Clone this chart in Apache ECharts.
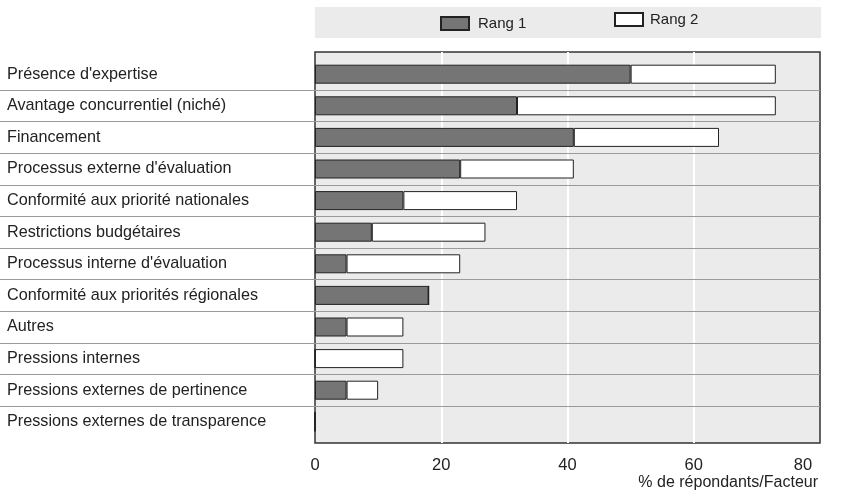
<!DOCTYPE html>
<html>
<head>
<meta charset="utf-8">
<script src="https://cdn.jsdelivr.net/npm/echarts@6/dist/echarts.min.js"></script>
<style>
html,body{margin:0;padding:0;background:#fff;}
#chart{width:863px;height:502px;}
</style>
</head>
<body>
<div id="chart"></div>
<script>
const categories = [
  "Présence d'expertise",
  "Avantage concurrentiel (niché)",
  "Financement",
  "Processus externe d'évaluation",
  "Conformité aux priorité nationales",
  "Restrictions budgétaires",
  "Processus interne d'évaluation",
  "Conformité aux priorités régionales",
  "Autres",
  "Pressions internes",
  "Pressions externes de pertinence",
  "Pressions externes de transparence"
];
const rang1 = [50, 32, 41, 23, 14, 9, 5, 18, 5, 0, 5, 0];
const rang2 = [23, 41, 23, 18, 18, 18, 18, 0, 9, 14, 5, 0];
const seriesNames = ["Rang 1", "Rang 2"];
const axisName = "% de répondants/Facteur";

const FONT = "'Liberation Sans', Arial, sans-serif";
const chart = echarts.init(document.getElementById('chart'), null, {renderer: 'canvas'});

const plotLeft = 315, plotRight = 43, frameTop = 52, frameBottom = 59;
const bandTop = 58.4, bandBottom = 64.4;

chart.setOption({
  animation: false,
  backgroundColor: '#ffffff',
  textStyle: {fontFamily: FONT},
  graphic: [{
    type: 'rect', z: -10, silent: true,
    shape: {x: 315, y: 7, width: 506, height: 31},
    style: {fill: '#ebebeb'}
  }],
  legend: [
    {data: [seriesNames[0]], left: 440, top: 16, padding: 0, itemWidth: 28, itemHeight: 13, itemGap: 0, icon: 'rect',
     textStyle: {fontFamily: FONT, fontSize: 15, color: '#222', padding: [0, 0, 0, 4]}},
    {data: [seriesNames[1]], left: 614, top: 12, padding: 0, itemWidth: 28, itemHeight: 13, itemGap: 0, icon: 'rect',
     textStyle: {fontFamily: FONT, fontSize: 15, color: '#222', padding: [0, 0, 0, 2]}}
  ],
  grid: [
    {left: plotLeft, right: plotRight, top: frameTop, bottom: frameBottom, show: true, outerBoundsMode: 'none', containLabel: false,
     backgroundColor: '#ebebeb', borderColor: '#333', borderWidth: 1.5, z: 0},
    {left: 0, right: plotRight, top: bandTop, bottom: bandBottom, show: false, outerBoundsMode: 'none', containLabel: false, z: 1},
    {left: plotLeft, right: plotRight, top: bandTop, bottom: bandBottom, show: false, outerBoundsMode: 'none', containLabel: false, z: 2}
  ],
  xAxis: [
    {gridIndex: 0, type: 'value', min: 0, max: 80, interval: 20, z: 0,
     axisLine: {show: false}, axisTick: {show: false},
     splitLine: {show: true, showMinLine: false, showMaxLine: false, lineStyle: {color: '#ffffff', width: 2}},
     axisLabel: {margin: 14, fontSize: 16.5, color: '#222', fontFamily: FONT,
       formatter: function (v) { return v === 80 ? '{r|' + v + '}' : String(v); },
       rich: {r: {fontSize: 16.5, color: '#222', fontFamily: FONT, padding: [0, 34, 0, 0]}}},
     name: axisName, nameLocation: 'end', nameGap: 0,
     nameTextStyle: {fontSize: 16, color: '#222', fontFamily: FONT, align: 'right', verticalAlign: 'top', padding: [32, 2, 0, 0]}},
    {gridIndex: 1, type: 'value', min: 0, max: 1, show: false},
    {gridIndex: 2, type: 'value', min: 0, max: 80, show: false}
  ],
  yAxis: [
    {gridIndex: 0, type: 'value', show: false},
    {gridIndex: 1, type: 'value', min: 0, max: 12, interval: 1, inverse: true, z: 1,
     axisLine: {show: false}, axisTick: {show: false}, axisLabel: {show: false},
     splitLine: {show: true, showMinLine: false, showMaxLine: false, lineStyle: {color: '#9a9a9a', width: 1}}},
    {gridIndex: 2, type: 'category', data: categories, inverse: true, z: 2,
     axisLine: {show: false}, axisTick: {show: false}, splitLine: {show: false},
     axisLabel: {margin: 308, align: 'left', fontSize: 16.2, color: '#222', fontFamily: FONT}}
  ],
  series: [
    {name: seriesNames[0], type: 'bar', stack: 'total', xAxisIndex: 2, yAxisIndex: 2,
     data: rang1, barWidth: 19, z: 3,
     itemStyle: {color: '#757575', borderColor: '#222', borderWidth: 1}},
    {name: seriesNames[1], type: 'bar', stack: 'total', xAxisIndex: 2, yAxisIndex: 2,
     data: rang2, barWidth: 19, z: 3,
     itemStyle: {color: '#ffffff', borderColor: '#222', borderWidth: 1}}
  ]
});
</script>
</body>
</html>
